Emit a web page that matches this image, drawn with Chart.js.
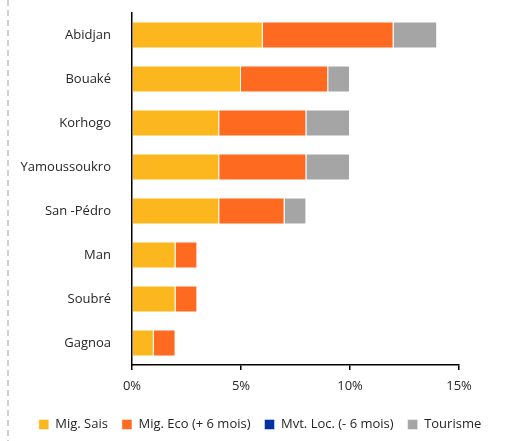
<!DOCTYPE html>
<html>
<head>
<meta charset="utf-8">
<script src="https://cdn.jsdelivr.net/npm/chart.js@4"></script>
<style>
  html, body { margin: 0; padding: 0; background: #fff; }
  #wrap { width: 510px; height: 441px; position: relative; }
</style>
</head>
<body>
<div id="wrap"><canvas id="chart"></canvas></div>
<script>
const villes = ['Abidjan', 'Bouaké', 'Korhogo', 'Yamoussoukro', 'San -Pédro', 'Man', 'Soubré', 'Gagnoa'];
const migSais = [6, 5, 4, 4, 4, 2, 2, 1];
const migEco = [6, 4, 4, 4, 3, 1, 1, 1];
const mvtLoc = [0, 0, 0, 0, 0, 0, 0, 0];
const tourisme = [2, 1, 2, 2, 1, 0, 0, 0];
const xTicks = [0, 5, 10, 15];

// dashed line on the left edge
const leftDash = {
    id: 'leftDash',
    beforeDraw(chart) {
        const c = chart.ctx;
        c.save();
        c.strokeStyle = '#d0d0d0';
        c.lineWidth = 2;
        c.setLineDash([6, 4]);
        c.beginPath();
        c.moveTo(8, 0);
        c.lineTo(8, chart.height);
        c.stroke();
        c.restore();
    }
};

Chart.defaults.font.family = '"Open Sans", sans-serif';
Chart.defaults.font.size = 13;
Chart.defaults.color = '#262626';

const bord = 'rgba(255,255,255,0.45)';

new Chart(document.getElementById('chart'), {
    type: 'bar',
    data: {
        labels: villes,
        datasets: [
            { label: 'Mig. Sais', data: migSais, backgroundColor: '#fdb71e', borderColor: bord, borderWidth: 1 },
            { label: 'Mig. Eco (+ 6 mois)', data: migEco, backgroundColor: '#ff6a21', borderColor: bord, borderWidth: 1 },
            { label: 'Mvt. Loc. (- 6 mois)', data: mvtLoc, backgroundColor: '#0033a0', borderColor: bord, borderWidth: 1 },
            { label: 'Tourisme', data: tourisme, backgroundColor: '#a5a5a5', borderColor: bord, borderWidth: 1 }
        ]
    },
    options: {
        indexAxis: 'y',
        responsive: true,
        maintainAspectRatio: false,
        animation: false,
        barPercentage: 0.61,
        categoryPercentage: 1,
        layout: {
            padding: { top: 13, right: 0, left: 10, bottom: 0 }
        },
        scales: {
            x: {
                stacked: true,
                min: 0,
                max: 15,
                afterBuildTicks: (s) => { s.ticks = xTicks.map(v => ({ value: v })); },
                afterFit: (s) => { s.height = 39; },
                ticks: {
                    callback: (v) => v + '%',
                    padding: 8,
                    maxRotation: 0
                },
                grid: {
                    display: true,
                    drawOnChartArea: false,
                    drawTicks: true,
                    tickLength: 5,
                    color: '#000',
                    lineWidth: 1.5
                },
                border: { display: true, color: '#000', width: 1.5 }
            },
            y: {
                stacked: true,
                afterFit: (s) => { s.width = 122; s.paddingTop = 0; s.paddingBottom = 0; },
                ticks: { padding: 13 },
                grid: { display: false },
                border: { display: true, color: '#000', width: 1.5 }
            },
            // empty right margin
            marge: {
                axis: 'y',
                type: 'linear',
                position: 'right',
                afterFit: (s) => { s.width = 51; s.paddingTop = 0; s.paddingBottom = 0; },
                ticks: { display: false },
                grid: { display: false },
                border: { display: false }
            }
        },
        plugins: {
            legend: {
                position: 'bottom',
                labels: {
                    boxWidth: 10,
                    boxHeight: 10,
                    padding: 14
                }
            },
            tooltip: { enabled: false }
        }
    },
    plugins: [leftDash]
});
</script>
</body>
</html>
